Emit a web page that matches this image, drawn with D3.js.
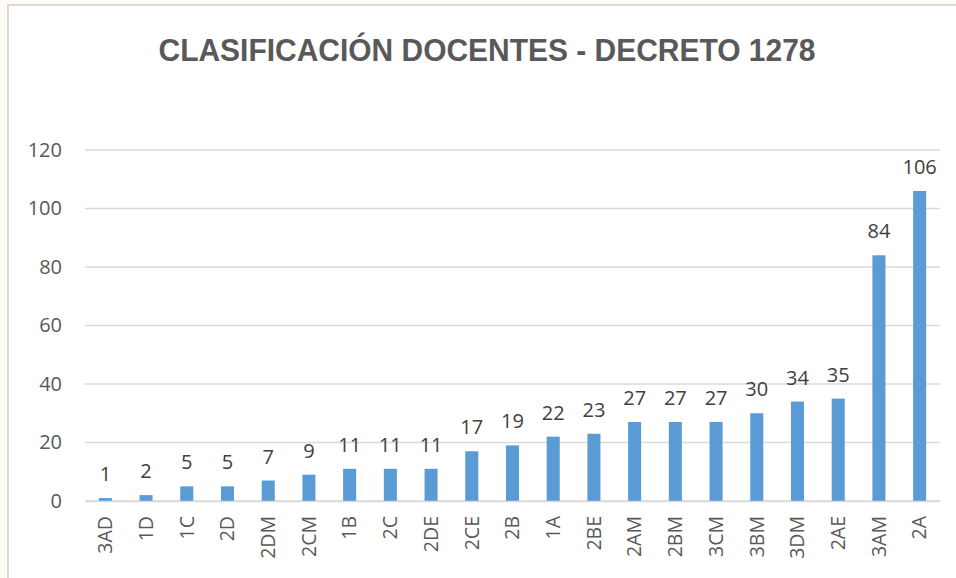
<!DOCTYPE html>
<html>
<head>
<meta charset="utf-8">
<script src="https://cdn.jsdelivr.net/npm/d3@7"></script>
<style>
  body { margin: 0; background: #fffcf5; }
  svg { display: block; }
</style>
</head>
<body>
<div id="chart"></div>
<script>
// Chart data
const categories = ["3AD", "1D", "1C", "2D", "2DM", "2CM", "1B", "2C", "2DE", "2CE", "2B",
    "1A", "2BE", "2AM", "2BM", "3CM", "3BM", "3DM", "2AE", "3AM", "2A"];
const values = [1, 2, 5, 5, 7, 9, 11, 11, 11, 17, 19, 22, 23, 27, 27, 27, 30, 34, 35, 84, 106];
const yTicks = [0, 20, 40, 60, 80, 100, 120];
const title = "CLASIFICACIÓN DOCENTES - DECRETO 1278";

const data = categories.map((c, i) => ({ cat: c, value: values[i] }));

const W = 956, H = 578;
const margin = { top: 150, right: 16, bottom: 77, left: 85 };
const width = W - margin.left - margin.right;
const height = H - margin.top - margin.bottom;

const root = d3.select("#chart")
    .append("svg")
    .attr("width", W)
    .attr("height", H);

// chart area background and border
root.append("rect")
    .attr("x", 8).attr("y", 5)
    .attr("width", W).attr("height", H)
    .attr("fill", "#fff")
    .attr("stroke", "#d9d9d9")
    .attr("stroke-width", 2);

root.append("text")
    .attr("x", 487)
    .attr("y", 61)
    .attr("text-anchor", "middle")
    .attr("font-family", "'Liberation Sans Narrow', 'Liberation Sans', sans-serif")
    .attr("font-weight", "bold")
    .attr("font-size", 32)
    .attr("fill", "#595959")
    .attr("textLength", 657)
    .attr("lengthAdjust", "spacingAndGlyphs")
    .text(title);

const svg = root.append("g")
    .attr("transform", `translate(${margin.left},${margin.top})`);

const xScale = d3.scaleBand()
    .domain(categories)
    .range([0, width])
    .paddingInner(0.68)
    .paddingOuter(0.34);

const yScale = d3.scaleLinear()
    .domain([0, 120])
    .range([height, 0]);

// gridlines
svg.append("g")
    .selectAll("line")
    .data(yTicks)
    .join("line")
    .attr("x1", 0)
    .attr("x2", width)
    .attr("y1", d => yScale(d))
    .attr("y2", d => yScale(d))
    .attr("stroke", "#d9d9d9")
    .attr("stroke-width", 1.5);

// y axis labels
const yAxis = svg.append("g")
    .call(d3.axisLeft(yScale).tickValues(yTicks).tickSize(0).tickPadding(23));
yAxis.select(".domain").remove();
yAxis.selectAll("text")
    .attr("font-family", "'Open Sans', 'Liberation Sans', sans-serif")
    .attr("font-size", 20)
    .attr("fill", "#595959");

// bars
svg.selectAll(".bar")
    .data(data)
    .join("rect")
    .attr("class", "bar")
    .attr("x", d => xScale(d.cat))
    .attr("width", xScale.bandwidth())
    .attr("y", d => yScale(d.value))
    .attr("height", d => height - yScale(d.value))
    .attr("fill", "#5b9bd5");

// value labels
svg.selectAll(".label")
    .data(data)
    .join("text")
    .attr("class", "label")
    .attr("x", d => xScale(d.cat) + xScale.bandwidth() / 2)
    .attr("y", d => yScale(d.value) - 17)
    .attr("text-anchor", "middle")
    .attr("font-family", "'Open Sans', 'Liberation Sans', sans-serif")
    .attr("font-size", 20)
    .attr("fill", "#404040")
    .text(d => d.value);

// x axis
const xAxis = svg.append("g")
    .attr("transform", `translate(0,${height})`)
    .call(d3.axisBottom(xScale).tickSize(0));
xAxis.select(".domain")
    .attr("stroke", "#d9d9d9")
    .attr("stroke-width", 1.5);
xAxis.selectAll("text")
    .attr("font-family", "'Open Sans', 'Liberation Sans', sans-serif")
    .attr("font-size", 19.5)
    .attr("fill", "#595959")
    .attr("text-anchor", "end")
    .attr("transform", "rotate(-90)")
    .attr("x", -15)
    .attr("y", 0)
    .attr("dy", "0.35em");
</script>
</body>
</html>
